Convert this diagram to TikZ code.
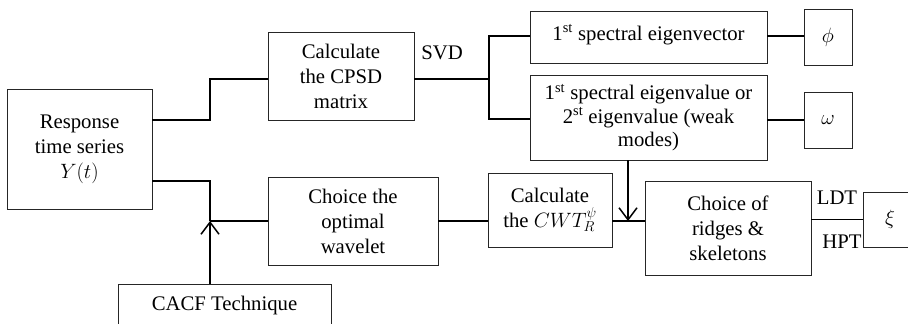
\documentclass[tikz,border=0pt]{standalone}
\usepackage{fontspec}
\setmainfont{Liberation Serif}
\usetikzlibrary{arrows.meta}
\tikzset{
    block/.style={draw=black!85, line width=0.9pt, align=center, inner sep=2pt},
    link/.style={line width=1.5pt},
    tip/.style={-{Straight Barb[length=12pt,width=18pt]}},
}
\begin{document}
\begin{tikzpicture}[x=1pt, y=-1pt, font=\fontsize{20.74}{25}\selectfont]
        \useasboundingbox (0,0) rectangle (908,324);
        \begin{scope}[every node/.style={block}]
            \node[minimum width=145, minimum height=120] (resp) at (79.5, 149) {Response\\time series\\$Y(t)$};
            \node[minimum width=146, minimum height=88] (cpsd) at (341, 76) {Calculate\\the CPSD\\matrix};
            \node[minimum width=170, minimum height=88] (wav) at (353, 221) {Choice the\\optimal\\wavelet};
            \node[minimum width=213, minimum height=44] (cacf) at (224.5, 306) {CACF Technique};
            \node[minimum width=237, minimum height=52, text depth=9pt] (evec) at (648.5, 37) {1\textsuperscript{st} spectral eigenvector};
            \node[minimum width=237, minimum height=85, font=\fontsize{20.74}{23.5}\selectfont] (evalue) at (648.5, 117.5) {1\textsuperscript{st} spectral eigenvalue or\\2\textsuperscript{st} eigenvalue (weak\\modes)};
            \node[minimum width=48, minimum height=56] (phi) at (828, 37) {$\phi$};
            \node[minimum width=48, minimum height=56] (omega) at (828, 120) {$\omega$};
            \node[minimum width=124, minimum height=74] (cwt) at (550, 210) {Calculate\\the $CWT_R^{\psi}$};
            \node[minimum width=166, minimum height=94] (ridge) at (728, 228) {Choice of\\ridges \&\\skeletons};
            \node[minimum width=54, minimum height=55] (xi) at (890, 219.5) {$\xi$};
        \end{scope}
        \node (svd) at (442, 53) {SVD};
        \node (ldt) at (837, 198) {LDT};
        \node (hpt) at (842, 242) {HPT};
        \coordinate (j1) at (489, 79);
        \coordinate (j2) at (210, 221);
        \coordinate (j3) at (628, 221);
        \begin{scope}[every path/.style={link}]
            \draw (resp.east |- 0,120) -| (210,79) -- (cpsd.west |- 0,79);
            \draw (resp.east |- 0,181) -| (j2);
            \draw[tip] (cacf.north -| j2) -- (j2);
            \draw (j2) -- (wav.west);
            \draw (wav.east) -- (cwt.west |- wav.east);
            \draw (cwt.east |- wav.east) -- (ridge.west |- wav.east);
            \draw[tip] (evalue.south -| j3) -- (j3);
            \draw (cpsd.east |- j1) -- (j1);
            \draw (evec.west |- 0,36) -| (j1) |- (evalue.west |- 0,119);
            \draw (evec.east |- 0,36) -- (phi.west |- 0,36);
            \draw (evalue.east |- omega.west) -- (omega.west);
            \draw (ridge.east |- xi.west) -- (xi.west);
        \end{scope}
    \end{tikzpicture}
\end{document}
